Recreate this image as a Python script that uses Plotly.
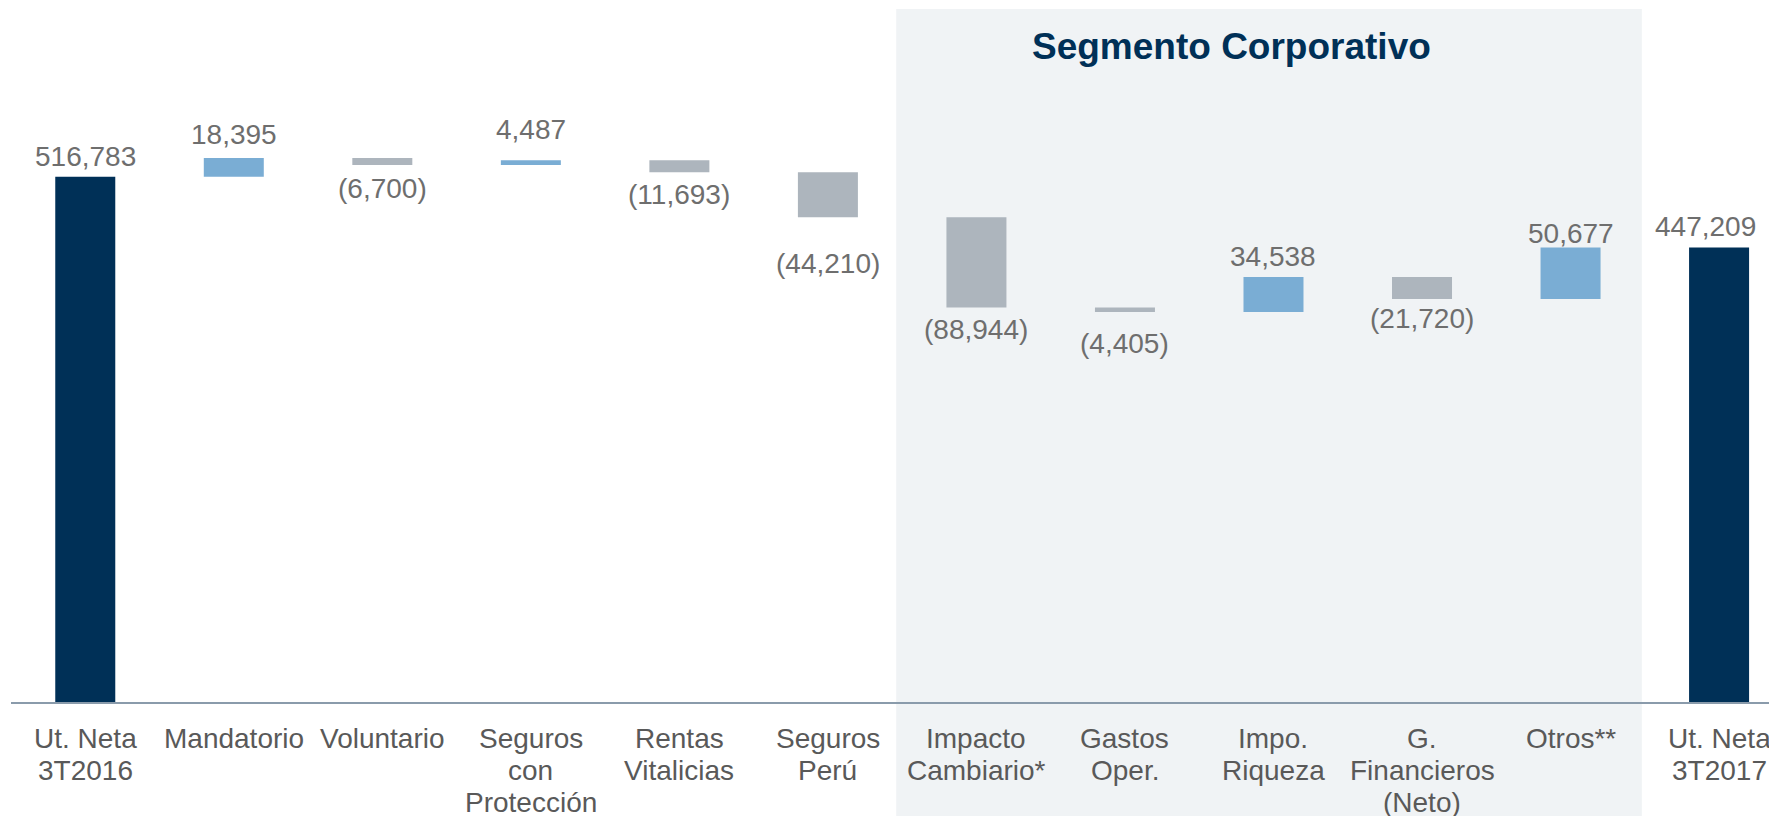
import plotly.graph_objects as go

# ---- data ----
categories = [
    "Ut. Neta<br>3T2016", "Mandatorio", "Voluntario", "Seguros<br>con<br>Protección",
    "Rentas<br>Vitalicias", "Seguros<br>Perú", "Impacto<br>Cambiario*", "Gastos<br>Oper.",
    "Impo.<br>Riqueza", "G.<br>Financieros<br>(Neto)", "Otros**", "Ut. Neta<br>3T2017",
]
values = [516783, 18395, -6700, 4487, -11693, -44210, -88944, -4405, 34538, -21720, 50677, 447209]
measures = ["absolute"] + ["relative"] * 10 + ["absolute"]
segment_title = "Segmento Corporativo"

# ---- label placement (pixels) ----
label_gap_px = [20, 24, 24, 31, 22, 46, 22, 31, 20, 19, 14, 21]
label_dx_px = [0, 0, 0, 0, 0, 0, 0, 0, 0, 0, 0, -14]

C_TOTAL = "#003057"
C_UP = "#7AADD4"
C_DOWN = "#ADB5BD"
C_SHADE = "#F0F3F5"
C_VAL = "#6E6E6E"
C_CAT = "#595959"
FONT = "Arial, Liberation Sans, sans-serif"

fig = go.Figure(go.Waterfall(
    x=categories,
    y=values,
    measure=measures,
    increasing=dict(marker=dict(color=C_UP, line=dict(width=0))),
    decreasing=dict(marker=dict(color=C_DOWN, line=dict(width=0))),
    totals=dict(marker=dict(color=C_TOTAL, line=dict(width=0))),
    connector=dict(visible=False),
    hoverinfo="skip",
    textinfo="none",
))

# running ends of each bar
annotations = []
run = 0
for i, (v, m) in enumerate(zip(values, measures)):
    if m == "absolute":
        start, end = 0, v
    else:
        start, end = run, run + v
    run = end
    if v >= 0:
        ytop = max(start, end)
        txt = f"{v:,}"
        shift = label_gap_px[i]
    else:
        ytop = min(start, end)
        txt = f"({abs(v):,})"
        shift = -label_gap_px[i]
    annotations.append(dict(
        x=i, y=ytop, xref="x", yref="y", text=txt, showarrow=False,
        yanchor="middle", xanchor="center", yshift=shift, xshift=label_dx_px[i],
        font=dict(family=FONT, size=28, color=C_VAL),
    ))

# category labels, one annotation per line for tighter line spacing
for i, cat in enumerate(categories):
    for j, line in enumerate(cat.split("<br>")):
        annotations.append(dict(
            x=i, y=0, xref="x", yref="y", text=line, showarrow=False,
            yanchor="middle", xanchor="center", yshift=-(36 + 32 * j),
            font=dict(family=FONT, size=28, color=C_CAT),
        ))

annotations.append(dict(
    x=7.72, y=0.944, xref="x", yref="paper", text=f"<b>{segment_title}</b>",
    showarrow=False, yanchor="middle", xanchor="center",
    font=dict(family=FONT, size=37, color=C_TOTAL),
))

# the page body has an 8px default margin, so the figure is 8px smaller
fig.update_layout(
    width=1769, height=808,
    margin=dict(l=3, r=0, t=0, b=114),
    paper_bgcolor="white", plot_bgcolor="white",
    showlegend=False,
    waterfallgap=0.596,
    annotations=annotations,
    shapes=[dict(
        type="rect", xref="x", yref="paper", x0=5.46, x1=10.48, y0=-0.2, y1=0.9986,
        fillcolor=C_SHADE, line=dict(width=0), layer="below",
    )],
    xaxis=dict(
        range=[-0.5, 11.39], showline=True, linecolor="#8A9BAB", linewidth=2,
        showgrid=False, zeroline=False, showticklabels=False, ticks="", fixedrange=True,
    ),
    yaxis=dict(range=[0, 682900], visible=False, fixedrange=True),
)

fig.write_html("out.html")
